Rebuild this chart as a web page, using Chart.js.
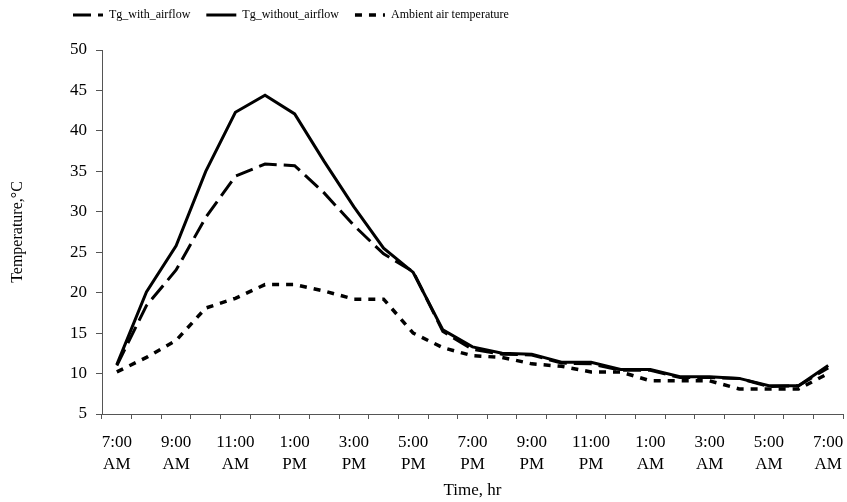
<!DOCTYPE html>
<html>
<head>
<meta charset="utf-8">
<script src="https://cdn.jsdelivr.net/npm/chart.js@4/dist/chart.umd.min.js"></script>
<style>
    body { margin: 0; background: #fff; }
    #wrap { width: 847px; height: 502px; }
</style>
</head>
<body>
<div id="wrap"><canvas id="tempChart" width="847" height="502"></canvas></div>
<script>
// hourly readings, 7:00 AM to 7:00 AM next day
const hours = [
    ['7:00', 'AM'], ['8:00', 'AM'], ['9:00', 'AM'], ['10:00', 'AM'], ['11:00', 'AM'], ['12:00', 'PM'],
    ['1:00', 'PM'], ['2:00', 'PM'], ['3:00', 'PM'], ['4:00', 'PM'], ['5:00', 'PM'], ['6:00', 'PM'],
    ['7:00', 'PM'], ['8:00', 'PM'], ['9:00', 'PM'], ['10:00', 'PM'], ['11:00', 'PM'], ['12:00', 'AM'],
    ['1:00', 'AM'], ['2:00', 'AM'], ['3:00', 'AM'], ['4:00', 'AM'], ['5:00', 'AM'], ['6:00', 'AM'],
    ['7:00', 'AM']
];

const tgWithAirflow = [11.0, 18.4, 22.8, 29.3, 34.4, 35.9, 35.7, 32.3, 28.3, 24.8, 22.6, 15.2,
    13.0, 12.4, 12.3, 11.3, 11.2, 10.4, 10.4, 9.5, 9.5, 9.4, 8.4, 8.5, 10.7];

const tgWithoutAirflow = [11.1, 20.1, 25.8, 35.0, 42.3, 44.4, 42.1, 36.2, 30.6, 25.5, 22.5, 15.4,
    13.3, 12.5, 12.4, 11.4, 11.4, 10.5, 10.5, 9.6, 9.6, 9.4, 8.5, 8.5, 11.0];

const ambientTemp = [10.2, 12.0, 14.1, 18.1, 19.3, 21.0, 21.0, 20.2, 19.2, 19.2, 15.0, 13.2,
    12.2, 12.0, 11.2, 10.9, 10.2, 10.2, 9.1, 9.1, 9.1, 8.1, 8.1, 8.1, 10.0];

const serif = 'Liberation Serif';

// move the legend row to where excel put it
const legendSpot = {
    id: 'legendSpot',
    afterLayout(chart) {
        chart.legend.left = 73 - 16;
        chart.legend.top = 15 - 16 - 6;
    }
};

const ctx = document.getElementById('tempChart').getContext('2d');
const tempChart = new Chart(ctx, {
    type: 'line',
    data: {
        labels: hours,
        datasets: [{
            label: 'Tg_with_airflow',
            data: tgWithAirflow,
            borderColor: '#000',
            backgroundColor: '#000',
            borderWidth: 3,
            borderDash: [18, 7],
            pointStyle: 'line',
            tension: 0
        },
        {
            label: 'Tg_without_airflow',
            data: tgWithoutAirflow,
            borderColor: '#000',
            backgroundColor: '#000',
            borderWidth: 3,
            pointStyle: 'line',
            tension: 0
        },
        {
            label: 'Ambient air temperature',
            data: ambientTemp,
            borderColor: '#000',
            backgroundColor: '#000',
            borderWidth: 3.5,
            borderDash: [7, 7],
            pointStyle: 'line',
            tension: 0
        }]
    },
    options: {
        responsive: false,
        animation: false,
        layout: {
            padding: { left: 0, right: 4, top: 12, bottom: 0 }
        },
        elements: {
            point: { radius: 0, hoverRadius: 0 }
        },
        plugins: {
            tooltip: { enabled: false },
            legend: {
                position: 'top',
                align: 'start',
                labels: {
                    usePointStyle: true,
                    pointStyleWidth: 30,
                    padding: 16,
                    color: '#000',
                    font: { family: serif, size: 12 },
                    // point style labels lose the dataset dash, put it back
                    generateLabels: (chart) => {
                        const items = Chart.defaults.plugins.legend.labels.generateLabels(chart);
                        items.forEach((item) => {
                            const ds = chart.data.datasets[item.datasetIndex];
                            item.lineDash = ds.borderDash || [];
                            item.lineWidth = ds.borderWidth;
                            item.strokeStyle = ds.borderColor;
                        });
                        return items;
                    }
                }
            }
        },
        scales: {
            x: {
                offset: true,
                afterFit: (scale) => {
                    scale.height = 88;
                    scale.paddingLeft = 0;
                    scale.paddingRight = 0;
                },
                grid: {
                    offset: true,
                    drawOnChartArea: false,
                    tickLength: 5,
                    color: '#555'
                },
                border: { color: '#555' },
                ticks: {
                    autoSkip: false,
                    maxRotation: 0,
                    padding: 12,
                    color: '#000',
                    font: { family: serif, size: 17, lineHeight: 1.3 },
                    callback: function (value, index) {
                        return index % 2 === 0 ? this.getLabelForValue(value) : '';
                    }
                },
                title: {
                    display: true,
                    text: 'Time, hr',
                    color: '#000',
                    font: { family: serif, size: 17 },
                    padding: { top: 0, bottom: 1 }
                }
            },
            y: {
                min: 5,
                max: 50,
                afterFit: (scale) => { scale.width = 102; },
                grid: {
                    drawOnChartArea: false,
                    tickLength: 6,
                    color: '#555'
                },
                border: { color: '#555' },
                ticks: {
                    stepSize: 5,
                    padding: 9,
                    color: '#000',
                    font: { family: serif, size: 17 }
                },
                title: {
                    display: true,
                    text: 'Temperature,°C',
                    color: '#000',
                    font: { family: serif, size: 16 },
                    padding: { top: 8, bottom: 0 }
                }
            }
        }
    },
    plugins: [legendSpot]
});
</script>
</body>
</html>
